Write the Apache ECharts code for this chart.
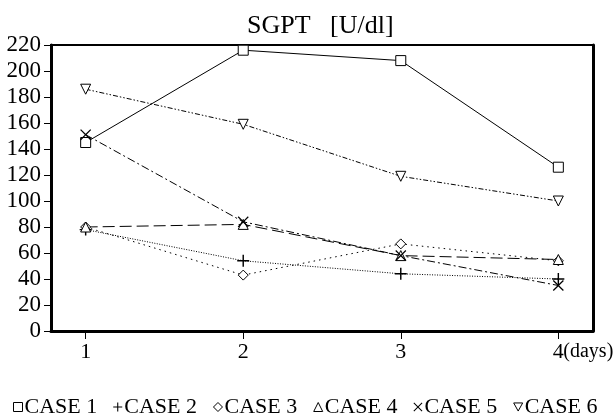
<!DOCTYPE html>
<html>
<head>
<meta charset="utf-8">
<script src="https://cdn.jsdelivr.net/npm/echarts@6/dist/echarts.min.js"></script>
<style>
  html, body { margin: 0; padding: 0; background: #fff; }
  #chart { width: 616px; height: 415px; }
</style>
</head>
<body>
<div id="chart"></div>
<script>
// day numbers on the x axis
var days = [1, 2, 3, 4];
var yTicks = [0, 20, 40, 60, 80, 100, 120, 140, 160, 180, 200, 220];

var names = ['CASE 1', 'CASE 2', 'CASE 3', 'CASE 4', 'CASE 5', 'CASE 6'];
var case1 = [145, 216, 208, 126];
var case2 = [78, 54, 44, 40];
var case3 = [80, 43, 67, 54];
var case4 = [80, 82, 58, 55];
var case5 = [151, 84, 58, 35];
var case6 = [186, 159, 119, 100];

var serif = 'Liberation Serif';
var plusPath = 'path://M4.4,0H5.6V4.4H10V5.6H5.6V10H4.4V5.6H0V4.4H4.4Z';
var crossPath = 'path://M0.8,0L5,4.2L9.2,0L10,0.8L5.8,5L10,9.2L9.2,10L5,5.8L0.8,10L0,9.2L4.2,5L0,0.8Z';
var downTri = 'path://M0,0L10,0L5,9Z';

function pairs(vals) {
  return days.map(function (d, i) { return [d, vals[i]]; });
}

var hollowStyle = { color: '#fff', borderColor: '#000', borderWidth: 1 };
var solidStyle = { color: '#000', borderWidth: 0 };

function mk(name, vals, symbol, size, dash, hollow) {
  return {
    name: name,
    type: 'line',
    data: pairs(vals),
    symbol: symbol,
    symbolSize: size,
    showAllSymbol: true,
    lineStyle: { color: '#000', width: 1, type: dash },
    itemStyle: hollow ? hollowStyle : solidStyle,
    emphasis: { disabled: true },
    z: 3
  };
}

function legItem(name, icon, hollow) {
  return { name: name, icon: icon, itemStyle: hollow ? hollowStyle : solidStyle };
}

var chart = echarts.init(document.getElementById('chart'), null, { renderer: 'canvas' });
var option = {
  animation: false,
  backgroundColor: '#fff',
  title: {
    text: 'SGPT   [U/dl]',
    left: 242,
    top: 8,
    textStyle: { fontFamily: serif, fontSize: 26, fontWeight: 'normal', color: '#000' }
  },
  legend: {
    top: 391,
    left: 8,
    itemGap: 16,
    itemWidth: 9,
    itemHeight: 9,
    textStyle: { fontFamily: serif, fontSize: 22, color: '#000', padding: [0, 0, 0, -3] },
    data: [
      legItem('CASE 1', 'rect', true),
      legItem('CASE 2', plusPath, false),
      legItem('CASE 3', 'diamond', true),
      legItem('CASE 4', 'triangle', true),
      legItem('CASE 5', crossPath, false),
      legItem('CASE 6', downTri, true)
    ]
  },
  grid: {
    left: 51, top: 45, right: 23, bottom: 84,
    show: true, borderColor: '#000', borderWidth: 2
  },
  xAxis: {
    type: 'value',
    min: 0.78,
    max: 4.22,
    splitLine: { show: false },
    axisLine: { onZero: false, lineStyle: { color: '#000', width: 3 } },
    axisTick: { inside: false, length: 8, customValues: days, lineStyle: { color: '#000' } },
    axisLabel: {
      customValues: days,
      margin: 10,
      fontFamily: serif, fontSize: 22, color: '#000',
      formatter: function (v) { return String(v); }
    }
  },
  yAxis: [{
    type: 'value',
    min: 0,
    max: 220,
    interval: 20,
    splitLine: { show: false },
    axisLine: { show: true, lineStyle: { color: '#000', width: 3 } },
    axisTick: { length: 7, lineStyle: { color: '#000' } },
    axisLabel: {
      margin: 10,
      fontFamily: serif, fontSize: 23, color: '#000',
      formatter: function (v) { return yTicks.indexOf(v) >= 0 ? String(v) : ''; }
    }
  }, {
    // thick right frame edge only
    type: 'value',
    position: 'right',
    min: 0,
    max: 220,
    splitLine: { show: false },
    axisLine: { show: true, lineStyle: { color: '#000', width: 3 } },
    axisTick: { show: false },
    axisLabel: { show: false }
  }],
  series: [
    mk(names[0], case1, 'rect', 10, 'solid', true),
    mk(names[1], case2, plusPath, 12, [1, 1.5], false),
    mk(names[2], case3, 'diamond', 10, [1.5, 4], true),
    mk(names[3], case4, 'triangle', 10, [12, 5], true),
    mk(names[4], case5, crossPath, 11, [8, 3, 2, 3], false),
    mk(names[5], case6, downTri, 10, [5, 2, 1.5, 2, 1.5, 2], true)
  ]
};
chart.setOption(option);

// "(days)" unit text sitting right after the last x label
var p4 = chart.convertToPixel({ xAxisIndex: 0 }, days[days.length - 1]);
chart.setOption({
  graphic: [{
    type: 'text',
    left: p4 + 5,
    top: 342,
    style: { text: '(days)', fontFamily: serif, fontSize: 20, fill: '#000' }
  }]
});
</script>
</body>
</html>
